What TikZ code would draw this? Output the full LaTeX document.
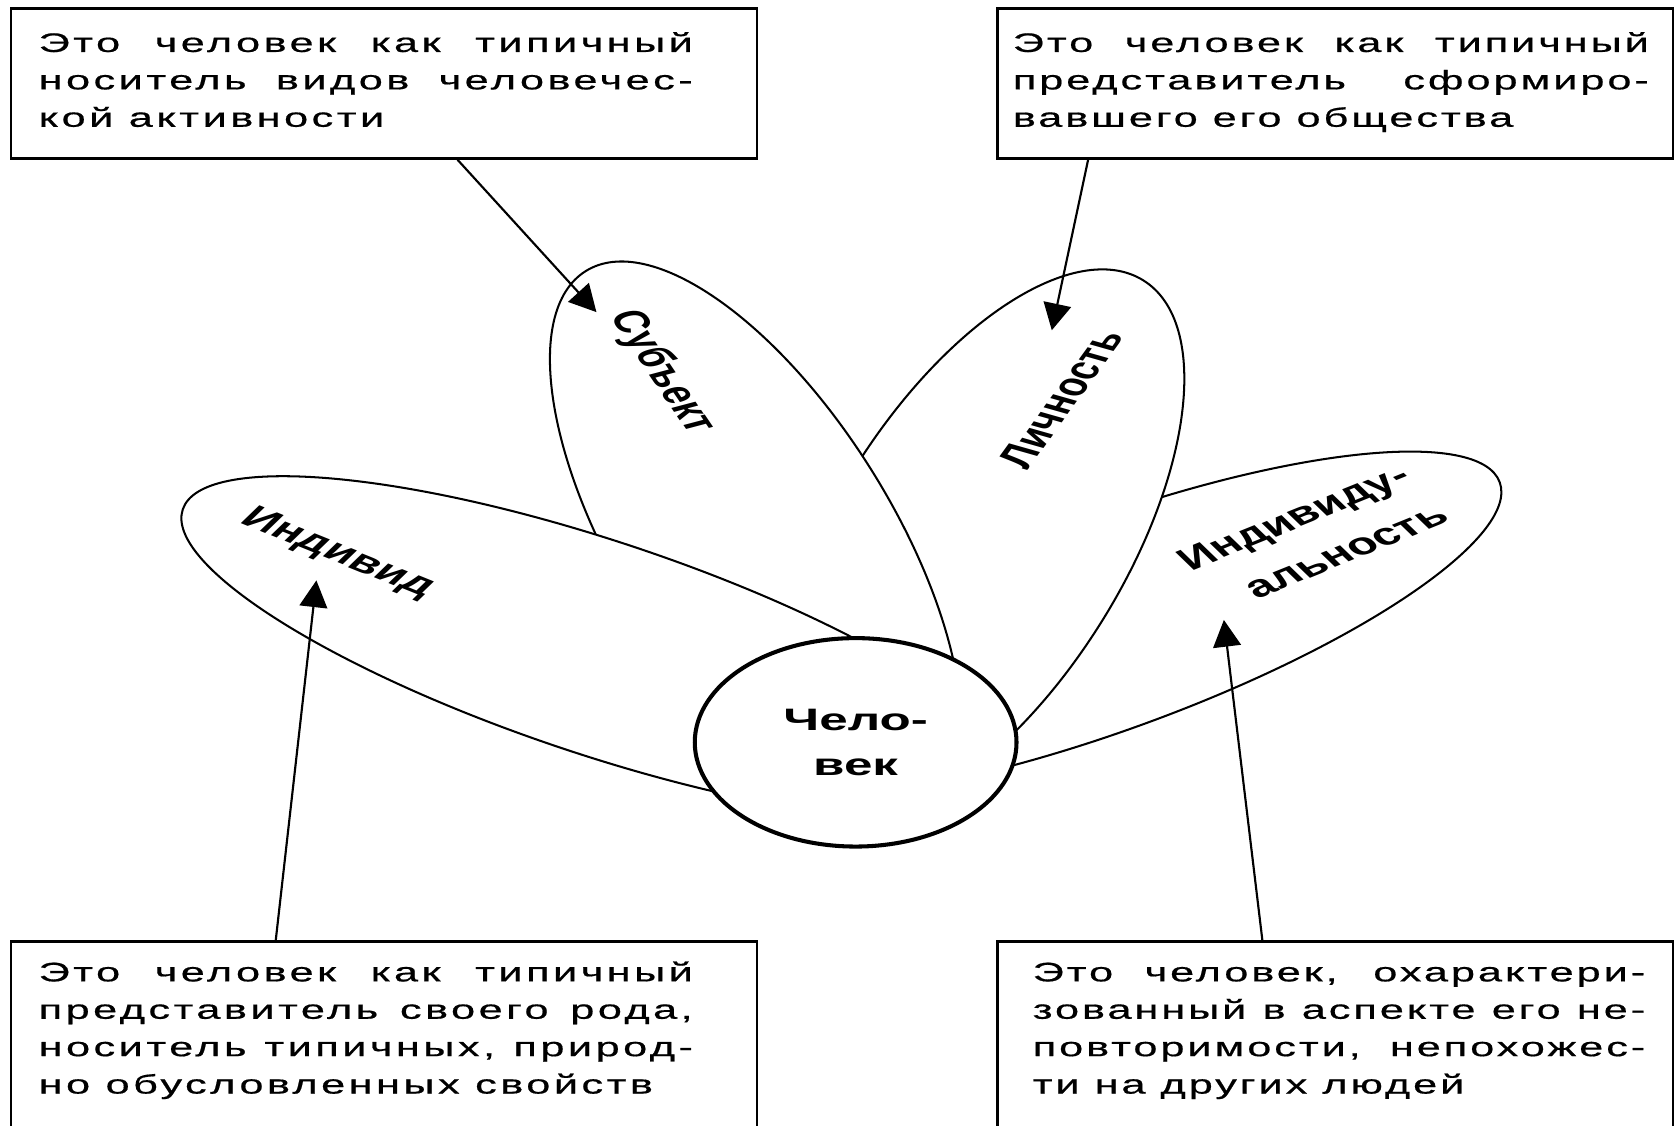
\documentclass[tikz,border=0pt]{standalone}
\usepackage{fontspec}
\usepackage{graphicx}
\usetikzlibrary{shapes.geometric,arrows.meta}
\setmainfont{Liberation Sans}
\newfontfamily\boxfont{Liberation Sans}[FakeStretch=1.62,LetterSpace=13,FakeBold=0.6]
\newfontfamily\boxfontb{Liberation Sans}[FakeStretch=1.62,LetterSpace=11,FakeBold=0.6]
\newfontfamily\manfont{Liberation Sans}[FakeStretch=1.65]
\newcommand\plbl[2]{\scalebox{1.6}[1]{\rotatebox{#1}{#2}}}
\newcommand\jl[2]{\makebox[#1][s]{#2}}
\tikzset{
  petal/.style={ellipse, draw, fill=white, line width=0.95pt, inner sep=0pt},
  txtbox/.style={draw, fill=white, line width=1.2pt, anchor=north west, inner xsep=0pt,
    inner ysep=9.2pt, text height=11pt, font=\boxfont\fontsize{12.5}{17.5}\selectfont},
  txtboxb/.style={txtbox, font=\boxfontb\fontsize{12.5}{17.5}\selectfont},
  lbl/.style={inner sep=0pt, font=\bfseries\fontsize{14.5}{21.5}\selectfont},
  arr/.style={line width=1pt, -{Triangle[length=12.5pt,width=13pt]}}
}
\begin{document}
\begin{tikzpicture}[x=0.5pt,y=-0.5pt]
\useasboundingbox (0,0) rectangle (1568,1053);
% petals (bottom to top)
\begin{scope}
  \clip (946,0) rectangle (1568,1053);
  \node[petal, minimum width=388pt, minimum height=98pt, rotate=20.1] (pindv) at (1038.7,584.5) {};
\end{scope}
\node[petal, minimum width=292pt, minimum height=136pt, rotate=58] (plich) at (915,510) {};
\node[petal, minimum width=300pt, minimum height=128pt, rotate=-58] (psubj) at (707,508) {};
\begin{scope}
  \clip (0,0) rectangle (860,1053);
  \node[petal, minimum width=410pt, minimum height=100pt, rotate=-18.4] (pind) at (560,606) {};
\end{scope}
% centre
\node[ellipse, draw, fill=white, line width=1.9pt, minimum width=150.5pt, minimum height=97.5pt,
  inner sep=0pt, align=center, font=\manfont\bfseries\fontsize{14.5}{21}\selectfont] (man) at (800.5,694.5) {Чело-\\век};
% petal labels
\node[lbl] (lsubj) at (619,348) {\plbl{-67.1}{Субъект}};
\node[lbl] (llich) at (993,373) {\plbl{65.6}{Личность}};
\node[lbl] (lind) at (316,518) {\plbl{-32.9}{Индивид}};
\node[lbl] (lindv) at (1230,503) {\plbl{32.9}{\begin{tabular}{@{}l@{}}Индивиду-\\\hspace*{9pt}альность\end{tabular}}};
% text boxes
\node[txtbox, minimum width=349pt, text depth=40.6pt] (tl) at (9,7)
  {\hspace*{13pt}\begin{tabular}[t]{@{}l@{}}\jl{306pt}{Это человек как типичный}\\\jl{306pt}{носитель видов человечес-}\\кой активности\end{tabular}\hspace*{30pt}};
\node[txtboxb, minimum width=316pt, text depth=40.6pt] (tr) at (932,7)
  {\hspace*{7.2pt}\begin{tabular}[t]{@{}l@{}}\jl{297.5pt}{Это человек как типичный}\\\jl{297.5pt}{представитель сформиро-}\\вавшего его общества\end{tabular}\hspace*{11.3pt}};
\node[txtbox, minimum width=349pt, text depth=100pt, inner ysep=7.7pt] (bl) at (9,879.5)
  {\hspace*{13pt}\begin{tabular}[t]{@{}l@{}}\jl{306pt}{Это человек как типичный}\\\jl{306pt}{представитель своего рода,}\\\jl{306pt}{носитель типичных, природ-}\\но обусловленных свойств\end{tabular}\hspace*{30pt}};
\node[txtboxb, minimum width=316pt, text depth=100pt, inner ysep=7.7pt] (br) at (932,879.5)
  {\hspace*{16.5pt}\begin{tabular}[t]{@{}l@{}}\jl{286.5pt}{Это человек, охарактери-}\\\jl{286.5pt}{зованный в аспекте его не-}\\\jl{286.5pt}{повторимости, непохожес-}\\ти на других людей\end{tabular}\hspace*{13pt}};
% arrow targets
\coordinate (tsubj) at (558,292);
\coordinate (tlich) at (984,309);
\coordinate (tind) at (296,543);
\coordinate (tindv) at (1145,580);
\draw[arr] (428,0 |- tl.south) -- (tsubj);
\draw[arr] (1018,0 |- tr.south) -- (tlich);
\draw[arr] (258,0 |- bl.north) -- (tind);
\draw[arr] (1181,0 |- br.north) -- (tindv);
\end{tikzpicture}
\end{document}
